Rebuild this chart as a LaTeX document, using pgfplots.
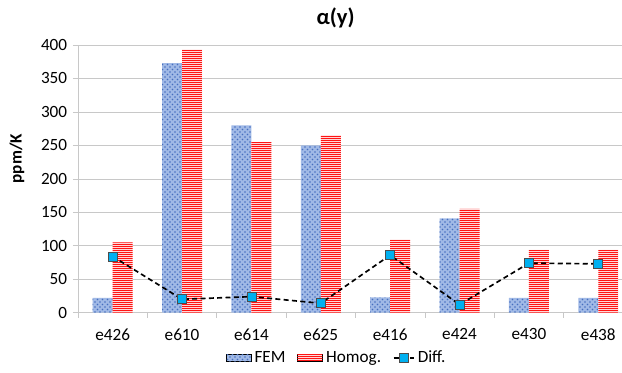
\documentclass[border=0pt]{standalone}
\usepackage{pgfplots}
\pgfplotsset{compat=1.18}
\usepackage{fontspec}
\setmainfont{Carlito}
\usetikzlibrary{patterns,patterns.meta}
\definecolor{femblue}{RGB}{70,110,190}
\definecolor{femfill}{RGB}{160,185,230}
\definecolor{homred}{RGB}{255,20,20}
\definecolor{homfill}{RGB}{255,215,215}
\definecolor{diffcyan}{RGB}{0,176,240}
\definecolor{gridgray}{RGB}{200,200,200}
\pgfplotsset{
  barlegend/.style={legend image code/.code={\draw[##1] (0pt,-2.2pt) rectangle (15pt,2.2pt);}},
  difflegend/.style={legend image code/.code={\draw[##1] (2pt,0pt) -- (14pt,0pt); \draw[##1,solid] plot coordinates {(8pt,0pt)};}},
}
\begin{document}
\begin{tikzpicture}
\begin{axis}[
  at={(46.8pt,35.6pt)}, anchor=south west,
  scale only axis, width=333pt, height=160.6pt,
  font=\fontsize{10.3}{12}\selectfont,
  /pgf/number format/assume math mode=true,
  xmin=-0.5, xmax=7.5, ymin=0, ymax=400,
  ytick={0,50,...,400},
  xtick={0,...,7},
  xticklabels={e426,e610,e614,e625,e416,e424,e430,e438},
  minor xtick={-0.5,0.5,...,7.5},
  major x tick style={draw=none},
  minor tick length=3pt, major tick length=3pt,
  tick align=outside,
  tick style={gridgray, thin},
  axis x line*=bottom, axis y line*=left,
  axis line style={gridgray, thin},
  ymajorgrids, grid style={gridgray, thin},
  xticklabel style={yshift=-3pt},
  title={\bfseries α(y)},
  title style={at={(axis description cs:0.464,1.063)}, anchor=center, yshift=0pt, font=\fontsize{13.5}{15}\selectfont},
  ylabel={\bfseries ppm/K},
  ylabel style={at={(axis description cs:-0.11,0.575)}, anchor=center, rotate=0},
  legend style={at={(axis description cs:0.467,-0.169)}, anchor=center, draw=none, fill=none, legend columns=3, /tikz/every even column/.append style={column sep=5pt}, /tikz/every odd column/.append style={column sep=0pt}, font=\fontsize{10.3}{12}\selectfont},
]
\addplot[ybar, bar width=12pt, bar shift=-6pt, draw=none, fill=femfill,
  postaction={pattern=crosshatch dots, pattern color=femblue}, barlegend]
  coordinates {(0,22) (1,373) (2,280) (3,250) (4,23) (5,141) (6,22) (7,22)};
\addlegendentry{FEM}
\addplot[ybar, bar width=12pt, bar shift=6pt, draw=none, fill=homfill,
  postaction={pattern={Lines[angle=0,distance=1.2pt,line width=0.4pt]}, pattern color=homred}, barlegend]
  coordinates {(0,105) (1,393) (2,255) (3,265) (4,109) (5,155) (6,94) (7,94)};
\addlegendentry{Homog.}
\addplot[black, line width=1pt, dash pattern=on 3pt off 2pt, mark=square*,
  mark size=2.7pt, mark options={solid, fill=diffcyan, draw=black!70, line width=0.5pt}, difflegend]
  coordinates {(0,84) (1,20) (2,24) (3,14) (4,86) (5,12) (6,74) (7,73)};
\addlegendentry{Diff.}
\end{axis}
\pgfresetboundingbox
\useasboundingbox (0,0) rectangle (373.2pt,223.2pt);
\end{tikzpicture}
\end{document}
